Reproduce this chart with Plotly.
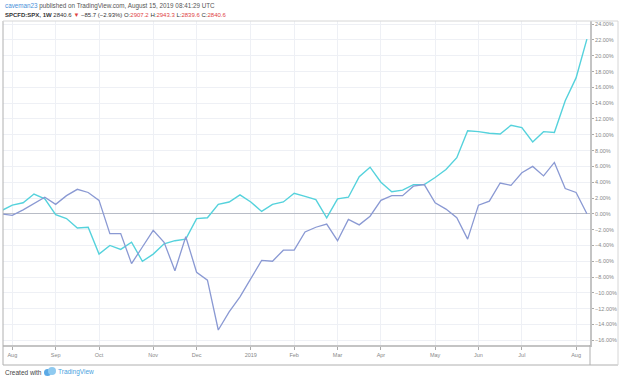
import pandas as pd
import plotly.graph_objects as go

# weekly dates (Monday bars)
dates = pd.date_range("2018-07-30", periods=55, freq="7D")

spx_pct = [0.0, -0.2, 0.5, 1.3, 2.1, 1.2, 2.3, 3.1, 2.7, 1.7,
           -2.5, -2.5, -6.3, -4.2, -2.1, -3.6, -7.2, -2.9, -7.4, -8.4,
           -14.7, -12.4, -10.5, -8.2, -5.9, -6.0, -4.6, -4.6, -2.3, -1.7,
           -1.3, -3.4, -0.7, -1.4, -0.3, 1.7, 2.3, 2.3, 3.5, 3.7,
           1.4, 0.6, -0.5, -3.2, 1.1, 1.6, 3.9, 3.6, 5.2, 6.0,
           4.8, 6.5, 3.2, 2.7, 0.0]

cmp_pct = [0.4, 1.1, 1.4, 2.5, 1.9, -0.1, -0.6, -1.8, -1.7, -5.1,
           -4.0, -4.5, -3.6, -6.0, -5.1, -3.8, -3.4, -3.2, -0.6, -0.5,
           1.2, 1.5, 2.4, 1.5, 0.3, 1.2, 1.5, 2.6, 2.2, 1.8,
           -0.5, 1.9, 2.1, 4.7, 5.9, 4.0, 2.8, 3.0, 3.7, 3.7,
           4.6, 5.6, 7.1, 10.5, 10.4, 10.2, 10.1, 11.2, 10.9, 9.1,
           10.4, 10.3, 14.3, 17.2, 22.1]

month_ticks = ["2018-08-06", "2018-09-03", "2018-10-01", "2018-11-05", "2018-12-03",
               "2019-01-07", "2019-02-04", "2019-03-04", "2019-04-01", "2019-05-06",
               "2019-06-03", "2019-07-01", "2019-08-05"]
month_labels = ["Aug", "Sep", "Oct", "Nov", "Dec", "2019", "Feb", "Mar", "Apr",
                "May", "Jun", "Jul", "Aug"]

y_ticks = list(range(-16, 25, 2))
y_labels = [("−" if v < 0 else "") + f"{abs(v):.2f}%" for v in y_ticks]

W, H = 620, 380
L, R, T, B = 3, 30, 21, 35
pw, ph = W - L - R, H - T - B


def px(xp):
    return (xp - L) / pw


def py(yp):
    return (H - B - yp) / ph


fig = go.Figure()
fig.add_trace(go.Scatter(x=dates, y=cmp_pct, mode="lines",
                         line=dict(color="#55d2dc", width=1.4), hoverinfo="skip"))
fig.add_trace(go.Scatter(x=dates, y=spx_pct, mode="lines",
                         line=dict(color="#8a99d3", width=1.3), hoverinfo="skip"))

fig.update_layout(
    width=W, height=H, showlegend=False,
    margin=dict(l=L, r=R, t=T, b=B, pad=0),
    paper_bgcolor="white", plot_bgcolor="white",
    font=dict(family="Liberation Sans, Arial, sans-serif", size=5.5, color="#888"),
    xaxis=dict(range=["2018-07-31", "2019-08-14"], tickvals=month_ticks, ticktext=month_labels,
               showgrid=True, gridcolor="#eef0f5", gridwidth=1,
               ticks="outside", ticklen=3, tickcolor="#aaa", tickfont=dict(size=5.5, color="#888"),
               showline=True, linecolor="#c4c4c4", linewidth=2, zeroline=False, fixedrange=True,
               automargin=False),
    yaxis=dict(range=[-16.6, 24.4], side="right", tickvals=y_ticks, ticktext=y_labels,
               showgrid=True, gridcolor="#eef0f5", gridwidth=1,
               ticks="outside", ticklen=2, tickcolor="#aaa", tickfont=dict(size=5.5, color="#888"),
               showline=True, linecolor="#c4c4c4", linewidth=2,
               zeroline=True, zerolinecolor="#b8bcc6", zerolinewidth=1, fixedrange=True,
               automargin=False),
)

# frame around chart and axes
line_c = "#b0b0b0"
fig.add_shape(type="line", xref="paper", yref="paper", x0=px(3), x1=px(3), y0=py(21), y1=py(365),
              line=dict(color=line_c, width=1))
fig.add_shape(type="line", xref="paper", yref="paper", x0=px(3), x1=px(618), y0=py(21), y1=py(21),
              line=dict(color="#d6d6d6", width=1))
fig.add_shape(type="line", xref="paper", yref="paper", x0=px(3), x1=px(618), y0=py(365), y1=py(365),
              line=dict(color=line_c, width=1))
fig.add_shape(type="line", xref="paper", yref="paper", x0=px(618), x1=px(618), y0=py(21), y1=py(365),
              line=dict(color="#d6d6d6", width=1))
fig.add_shape(type="line", xref="paper", yref="paper", x0=px(590), x1=px(590), y0=py(345), y1=py(365),
              line=dict(color=line_c, width=1))

# header
fig.add_annotation(xref="paper", yref="paper", x=px(3), y=py(6), xanchor="left", yanchor="middle",
                   showarrow=False, font=dict(size=6.3, color="#555"),
                   text="<span style='color:#4a90d9'>caveman23</span> published on TradingView.com, August 15, 2019 08:41:29 UTC")
red = "#e0433f"
fig.add_annotation(xref="paper", yref="paper", x=px(3), y=py(15), xanchor="left", yanchor="middle",
                   showarrow=False, font=dict(size=6.0, color="#333"),
                   text=("<b>SPCFD:SPX, 1W</b> 2840.6 <span style='color:%s'>▼</span> −85.7 (−2.93%%) "
                         "O:<span style='color:%s'>2907.2</span> H:<span style='color:%s'>2943.3</span> "
                         "L:<span style='color:%s'>2839.6</span> C:<span style='color:%s'>2840.6</span>")
                   % (red, red, red, red, red))

# footer
fig.add_annotation(xref="paper", yref="paper", x=px(3), y=py(372), xanchor="left", yanchor="middle",
                   showarrow=False, font=dict(size=6.5, color="#444"), text="Created with")
fig.add_shape(type="circle", xref="paper", yref="paper", x0=px(44), x1=px(51), y0=py(376), y1=py(369),
              line=dict(width=0), fillcolor="#5aa9e6")
fig.add_shape(type="circle", xref="paper", yref="paper", x0=px(48), x1=px(56), y0=py(375), y1=py(367),
              line=dict(width=0), fillcolor="#8fcaf0")
fig.add_annotation(xref="paper", yref="paper", x=px(56), y=py(372), xanchor="left", yanchor="middle",
                   showarrow=False, font=dict(size=6.5, color="#4a9fe0"), text="TradingView")

fig.write_html("out.html", config={"displayModeBar": False},
               post_script="document.body.style.margin='0';document.body.style.overflow='hidden';")
